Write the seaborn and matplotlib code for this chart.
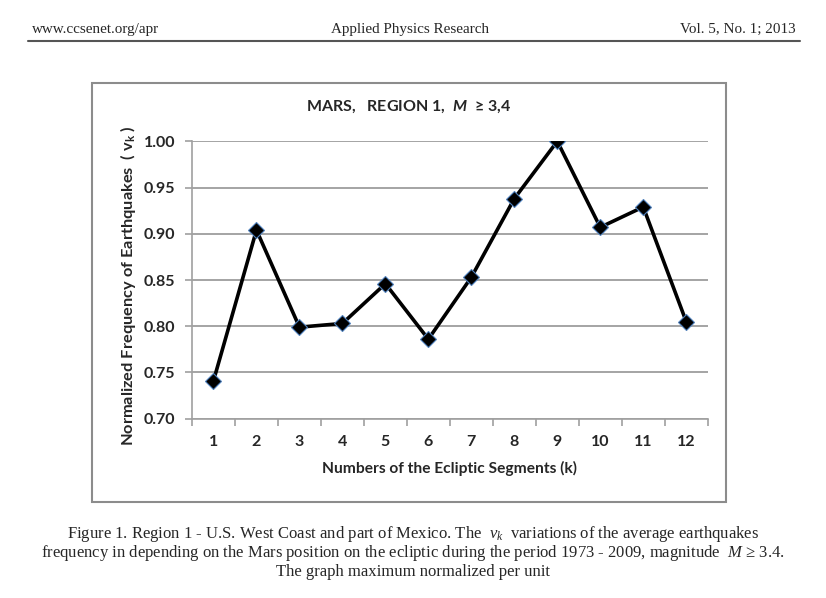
import matplotlib
matplotlib.use("Agg")
import matplotlib.pyplot as plt
import seaborn as sns
import pandas as pd
from matplotlib.patches import Rectangle
from matplotlib.lines import Line2D

# ---- data ----
segments = [1, 2, 3, 4, 5, 6, 7, 8, 9, 10, 11, 12]
frequency = [0.741, 0.904, 0.799, 0.803, 0.846, 0.786, 0.853, 0.938, 1.000, 0.907, 0.929, 0.805]
y_ticks = [0.70, 0.75, 0.80, 0.85, 0.90, 0.95, 1.00]

sns.set_theme(style="white")
plt.rcParams['font.family'] = ['Lato', 'DejaVu Sans']
plt.rcParams['mathtext.fontset'] = 'custom'
plt.rcParams['mathtext.rm'] = 'Liberation Serif'
plt.rcParams['mathtext.it'] = 'Liberation Serif:italic'
plt.rcParams['mathtext.bf'] = 'Lato:bold'
plt.rcParams['mathtext.bfit'] = 'Lato:italic:bold'

W, H = 826, 598
fig = plt.figure(figsize=(W / 100, H / 100), dpi=100)
fig.patch.set_facecolor('white')

def fx(px):
    return px / W

def fy(py):
    return 1 - py / H

# page header
serif = ['Liberation Serif', 'DejaVu Serif']
fig.text(fx(32), fy(29), "www.ccsenet.org/apr", family=serif, fontsize=10.9, ha='left', va='center')
fig.text(fx(410), fy(29), "Applied Physics Research", family=serif, fontsize=10.9, ha='center', va='center')
fig.text(fx(796), fy(29), "Vol. 5, No. 1; 2013", family=serif, fontsize=10.9, ha='right', va='center')
fig.add_artist(Line2D([fx(28), fx(800)], [fy(40.5), fy(40.5)], color='#555555', lw=1.5))

# chart frame
fig.add_artist(Rectangle((fx(92), fy(502)), fx(726) - fx(92), fy(83) - fy(502),
                         fill=False, edgecolor='#8c8c8c', lw=1.5))

ax = fig.add_axes([fx(192), fy(418.7), fx(707.7) - fx(192), fy(141.3) - fy(418.7)])
df = pd.DataFrame({"k": segments, "v": frequency})
sns.lineplot(data=df, x="k", y="v", ax=ax, color='black', linewidth=2.6,
             marker='D', markersize=8, markerfacecolor='black',
             markeredgecolor='#4f81bd', markeredgewidth=0.8, zorder=3)

ax.set_xlim(0.5, 12.5)
ax.set_ylim(0.70, 1.00)
ax.set_yticks(y_ticks)
ax.set_yticklabels([f"{t:.2f}" for t in y_ticks], fontsize=11.5, fontweight='bold')
ax.set_xticks(segments)
ax.set_xticklabels([str(s) for s in segments], fontsize=11.5, fontweight='bold')
ax.set_xticks([s + 0.5 for s in [0] + segments], minor=True)
ax.tick_params(axis='x', which='major', length=0, pad=12)
ax.tick_params(axis='x', which='minor', length=5, width=1.2, color='#a0a0a0', direction='out', bottom=True)
ax.tick_params(axis='y', which='major', length=5, width=1.2, color='#a0a0a0', direction='out', left=True, pad=7)
ax.yaxis.grid(True, color='#8c8c8c', linewidth=1.1)
ax.xaxis.grid(False)
for side in ['top', 'right']:
    ax.spines[side].set_visible(False)
for side in ['left', 'bottom']:
    ax.spines[side].set_color('#a0a0a0')
    ax.spines[side].set_linewidth(1.2)
ax.set_facecolor('white')

ax.set_xlabel("Numbers of the Ecliptic Segments (k)", fontsize=11.2, fontweight='bold', labelpad=8)
ax.set_ylabel(r"Normalized Frequency of Earthquakes  ( $\mathbf{v}_\mathbf{k}$ )", fontsize=11.8,
              fontweight='bold', labelpad=4)
ax.yaxis.label.set_position((0, 0.48))

fig.text(fx(408.5), fy(107), r"MARS,   REGION 1,  $\mathbfit{M}$  ≥ 3,4", fontsize=11.5,
         fontweight='bold', ha='center', va='center')

# caption
fig.text(fx(413), fy(537.7), r"Figure 1. Region 1 - U.S. West Coast and part of Mexico. The  $v_k$  variations of the average earthquakes",
         family=serif, fontsize=12, ha='center', va='baseline')
fig.text(fx(413), fy(556.7), r"frequency in depending on the Mars position on the ecliptic during the period 1973 - 2009, magnitude  $M$ ≥ 3.4.",
         family=serif, fontsize=12, ha='center', va='baseline')
fig.text(fx(413), fy(575.7), "The graph maximum normalized per unit",
         family=serif, fontsize=12, ha='center', va='baseline')

fig.savefig("out.png", dpi=100, facecolor='white')
